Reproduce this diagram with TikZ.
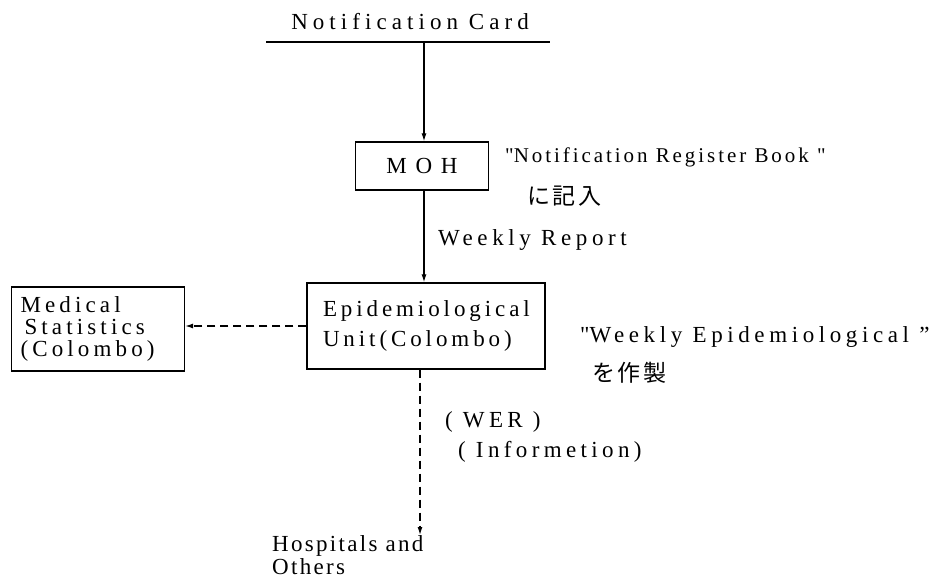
\documentclass[tikz,border=0pt]{standalone}
\usepackage{fontspec}
\setmainfont{Liberation Serif}
\newfontfamily\plainq{Liberation Serif}
\newfontfamily\jpfont{Noto Sans CJK JP}[LetterSpace=12]
\usetikzlibrary{arrows.meta}

% font at a given size and letter spacing
\newcommand{\sized}[3]{\fontsize{#1}{#2}\selectfont\addfontfeature{LetterSpace=#3}}
\newcommand{\sq}{{\plainq"}}

\tikzset{
  lbl/.style={font=\sized{23}{26}{19}, inner sep=0pt},
  jp/.style={font=\jpfont\fontsize{23}{26}\selectfont, inner sep=0pt},
  box/.style={draw, line width=1.3pt, inner sep=0pt},
  conn/.style={line width=1.2pt, -{Latex[length=8pt,width=5pt]}},
  dashconn/.style={conn, dash pattern=on 8pt off 5pt}
}

\begin{document}
\begin{tikzpicture}[x=1pt, y=-1pt]
\useasboundingbox[fill=white] (0,0) rectangle (938,578);

% heading with its rule
\node[lbl, font=\sized{23}{26}{22}, anchor=base] (card) at (410,30) {Notification Card};
\coordinate (ruleL) at (266,42);
\coordinate (ruleR) at (550,42);
\coordinate (tap) at (424,42);
\draw[line width=1.3pt] (ruleL) -- (ruleR);

% boxes
\node[box, minimum width=133pt, minimum height=48pt, font=\sized{23}{26}{38}] (moh) at (422,166) {MOH};
\node[box, minimum width=238pt, minimum height=86pt, align=left, text width=206pt,
      font=\sized{23}{30}{17}] (epi) at (426,326)
      {Epidemiological\\Unit(Colombo)};
\node[box, minimum width=173pt, minimum height=84pt, align=left, text width=155pt,
      font=\sized{23}{22}{18}] (med) at (98,329)
      {Medical\\\hspace*{4pt}Statistics\\(Colombo)};

% side notes
\node[lbl, font=\sized{21}{24}{14}, anchor=base west] (reg) at (505,162) {\sq Notification Register Book \sq};
\node[jp, anchor=west] (regjp) at (527,196) {に記入};
\node[lbl, font=\sized{23}{26}{20}, anchor=base west] (wrep) at (438,245) {Weekly Report};
\node[lbl, font=\sized{23}{26}{20}, anchor=base west] (wep) at (580,342) {\sq Weekly Epidemiological ”};
\node[jp, anchor=west] (wepjp) at (592,373) {を作製};
\node[lbl, anchor=base west] (wer) at (445,427) {( WER )};
\node[lbl, anchor=base west] (info) at (458,457) {( Informetion)};
\node[lbl, font=\sized{23}{23}{10}, anchor=north west, align=left] (hosp) at (272,535) {Hospitals and\\Others};

% connectors
\draw[conn] (tap) -- (tap |- moh.north);
\draw[conn] (moh.south -| tap) -- (epi.north -| tap);
\draw[dashconn] (epi.west) -- (epi.west -| med.east);
\draw[dashconn] ([xshift=-6pt]epi.south) -- ([xshift=-6pt]epi.south |- hosp.north);
\end{tikzpicture}
\end{document}
